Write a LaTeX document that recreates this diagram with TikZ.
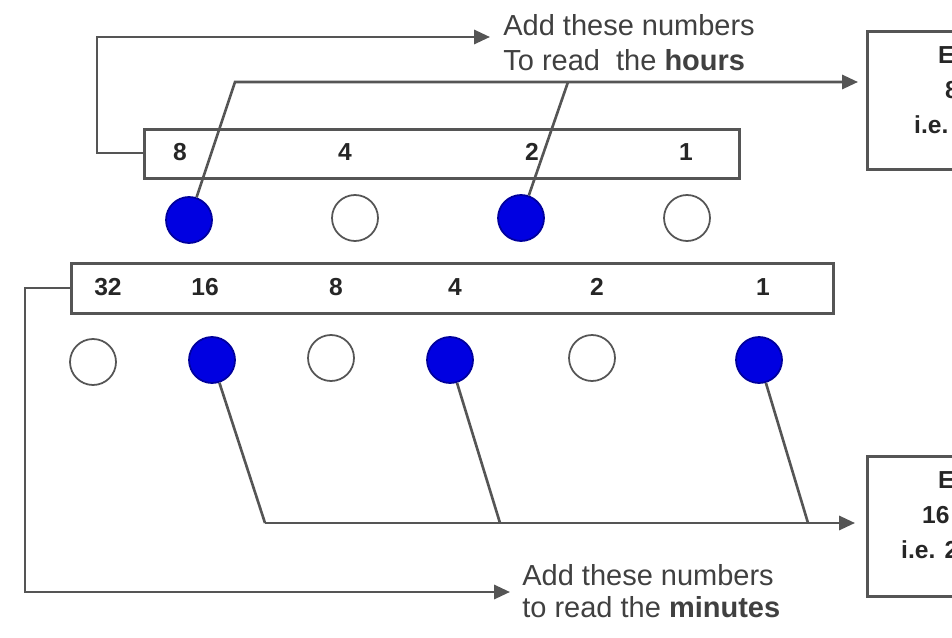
\documentclass[tikz,border=0pt]{standalone}
\usepackage{fontspec}
\setmainfont{Liberation Sans}
\usetikzlibrary{arrows.meta}
\definecolor{lncol}{RGB}{85,85,85}
\definecolor{dotblue}{RGB}{0,0,225}
\tikzset{
  ln/.style={draw=lncol, line width=1.5pt},
  arr/.style={ln, -{Triangle[length=9pt,width=8pt]}},
  bar/.style={draw=lncol, line width=1.5pt, anchor=north west, inner sep=0pt},
  num/.style={font=\bfseries\fontsize{14}{16}\selectfont, text=black!85},
  dotoff/.style={circle, draw=lncol, line width=1pt, fill=white, minimum size=0.92cm, inner sep=0pt},
  doton/.style={circle, draw=dotblue!70!black, line width=1pt, fill=dotblue, minimum size=0.92cm, inner sep=0pt},
  note/.style={font=\fontsize{16.5}{20}\selectfont, text=black!75, align=left, anchor=west, inner sep=0pt},
  res/.style={font=\bfseries\fontsize{14}{17}\selectfont, text=black!85},
}
\begin{document}
\begin{tikzpicture}[x=0.02cm, y=-0.02cm]
\useasboundingbox (0,0) rectangle (952,638);
% hour bar
\node[bar, minimum width=11.9cm, minimum height=0.98cm] (hbar) at (143,128) {};
\node[num] (hn8) at (180,152) {8};
\node[num] (hn4) at (345,152) {4};
\node[num] (hn2) at (532,152) {2};
\node[num] (hn1) at (686,152) {1};
% hour dots
\node[doton]  (h8) at (189,220) {};
\node[dotoff] (h4) at (355,218) {};
\node[doton]  (h2) at (521,218) {};
\node[dotoff] (h1) at (687,218) {};
% minute bar
\node[bar, minimum width=15.24cm, minimum height=1.0cm] (mbar) at (70,262) {};
\node[num] (mn32) at (108,287) {32};
\node[num] (mn16) at (205,287) {16};
\node[num] (mn8) at (336,287) {8};
\node[num] (mn4) at (455,287) {4};
\node[num] (mn2) at (597,287) {2};
\node[num] (mn1) at (763,287) {1};
% minute dots
\node[dotoff] (m32) at (93,362) {};
\node[doton]  (m16) at (212,360) {};
\node[dotoff] (m8) at (331,358) {};
\node[doton]  (m4) at (450,360) {};
\node[dotoff] (m2) at (592,358) {};
\node[doton]  (m1) at (759,360) {};
% notes
\node[note] (hnote) at (503,43) {Add these numbers\\To read\ \ the \textbf{hours}};
\node[note, font=\fontsize{16.5}{18}\selectfont] (mnote) at (522,591) {Add these numbers\\to read the \textbf{minutes}};
% result boxes (cut by the picture edge)
\node[bar, minimum width=2.8cm, minimum height=2.76cm] (hbox) at (866,30) {};
\node[bar, minimum width=2.8cm, minimum height=2.8cm] (mbox) at (866,455) {};
\node[res, anchor=west] (ht1) at (932,55) {E};
\node[res, anchor=west] (ht2) at (939,90) {8};
\node[res, anchor=west] (ht3) at (908,125) {i.e.};
\node[res, anchor=west] (mt1) at (932,480) {E};
\node[res, anchor=west] (mt2) at (916,515) {16};
\node[res, anchor=west] (mt3) at (895,550) {i.e. 2};
% connector coordinates
\coordinate (c1) at (97,153);
\coordinate (c2) at (97,37);
\coordinate (c3) at (490,37);
\coordinate (k8) at (235,82);
\coordinate (k2) at (568,82);
\coordinate (c4) at (858,82);
\coordinate (b16) at (265,523);
\coordinate (b4) at (500,523);
\coordinate (b1) at (808,523);
\coordinate (c5) at (855,523);
\coordinate (d1) at (25,288);
\coordinate (d2) at (25,592);
\coordinate (d3) at (510,592);
% connectors
\draw[arr] (hbar.west |- c1) -- (c1) -- (c2) -- (c3);
\draw[arr] (h8) -- (k8) -- (c4);
\draw[ln] (h2) -- (k2);
\draw[ln] (m16) -- (b16);
\draw[ln] (m4) -- (b4);
\draw[ln] (m1) -- (b1);
\draw[arr] (b16) -- (c5);
\draw[arr] (mbar.west |- d1) -- (d1) -- (d2) -- (d3);
\end{tikzpicture}
\end{document}
